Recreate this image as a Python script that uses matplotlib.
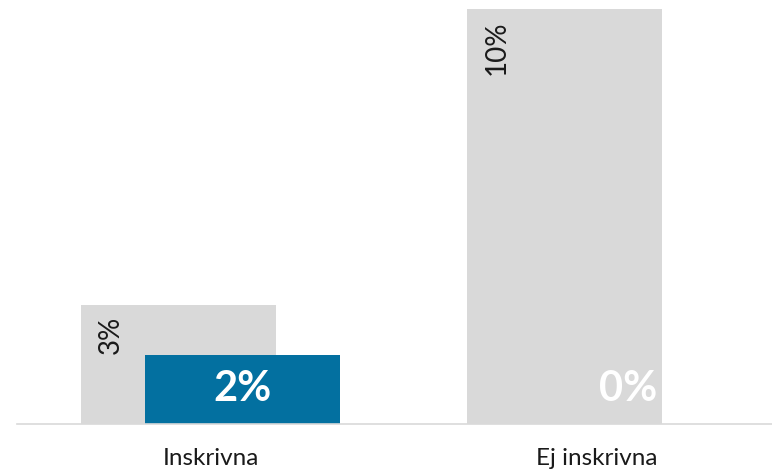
import matplotlib
matplotlib.use("Agg")
import matplotlib.pyplot as plt

categories = ["Inskrivna", "Ej inskrivna"]
gray_values = [2.87, 10.0]
gray_labels = ["3%", "10%"]
blue_values = [1.66, 0.0]
blue_labels = ["2%", "0%"]

plt.rcParams['font.family'] = ['Lato', 'DejaVu Sans']

fig = plt.figure(figsize=(7.72, 4.72), dpi=100)
ax = fig.add_axes([17/772, (472-424)/472, 1 - 17/772, (424-9)/472])

x = list(range(len(categories)))
w = 0.506
off = 0.083
gx = [xi - off for xi in x]
bx = [xi + off for xi in x]
ax.bar(gx, gray_values, width=w, color="#d9d9d9", zorder=1)
ax.bar(bx, blue_values, width=w, color="#0370a0", zorder=2)

ax.set_ylim(0, max(gray_values))
ax.set_xlim(-0.503, 1.456)

for xi, v, lab in zip(gx, gray_values, gray_labels):
    ax.annotate(lab, xy=(xi - w/2, v), xytext=(21.5, -8), textcoords="offset points",
                rotation=90, ha="center", va="top", fontsize=20, color="#1a1a1a")

for xi, lab in zip(bx, blue_labels):
    ax.annotate(lab, xy=(xi, 0), xytext=(0, 25), textcoords="offset points",
                ha="center", va="center", fontsize=30, fontweight="bold", color="white", zorder=3)

for s in ["top", "right", "left"]:
    ax.spines[s].set_visible(False)
ax.spines["bottom"].set_color("#d9d9d9")
ax.spines["bottom"].set_linewidth(1.2)
ax.set_yticks([])
ax.set_xticks(x)
ax.set_xticklabels(categories, fontsize=17.5, color="#1a1a1a")
ax.tick_params(axis="x", length=0, pad=17)

fig.savefig("out.png", dpi=100)
